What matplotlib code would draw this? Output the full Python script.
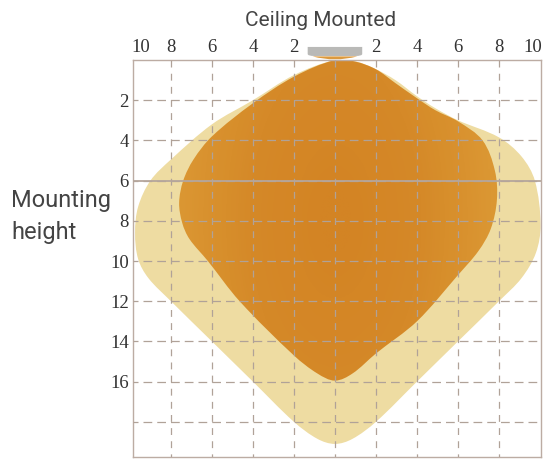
import numpy as np
import matplotlib
matplotlib.use("Agg")
import matplotlib.pyplot as plt
from matplotlib.colors import LinearSegmentedColormap
from matplotlib.path import Path
from matplotlib.patches import PathPatch

x_ticks = [-8, -6, -4, -2, 0, 2, 4, 6, 8]
x_labels = ["8", "6", "4", "2", "", "2", "4", "6", "8"]
y_ticks = [2, 4, 6, 8, 10, 12, 14, 16, 18]
y_labels = ["2", "4", "6", "8", "10", "12", "14", "16", ""]

outer_x = [0, -2, -4, -6, -8, -9, -9.6, -9.75, -9.6, -9.1, -8, -6, -4, -2, -0.85,
           0, 0.85, 2, 4, 6, 8, 9.1, 9.8, 10.03, 9.75, 9.1, 8, 6, 4.9, 4, 2.95, 2, 1]
outer_y = [0, 0.75, 2, 3.2, 4.95, 6, 7.3, 8.6, 9.9, 10.85, 12, 14, 16, 18, 18.85,
           19.1, 18.85, 18, 16, 14, 12, 10.85, 9.6, 8.2, 6, 4.8, 3.85, 3, 2.4, 1.8, 1, 0.46, 0.07]
inner_x = [0, -2, -4, -6, -6.9, -7.4, -7.6, -7.45, -7.1, -6.2, -4.65, -2, -0.85,
           0, 0.85, 2, 4, 6, 7, 7.6, 7.9, 7.8, 7.2, 6, 4.9, 4, 2.95, 2, 1]
inner_y = [0, 0.83, 2.15, 3.8, 4.95, 6, 7.1, 8.1, 8.9, 10, 12, 14.7, 15.6,
           15.95, 15.6, 14.6, 13, 10.7, 9.5, 8.4, 6.95, 5.5, 4, 3.05, 2.5, 1.9, 1.15, 0.46, 0.08]

def smooth_path(xs, ys):
    # closed smooth outline through the read points, as Bezier segments whose
    # handles scale with each segment's own length
    p = np.column_stack([xs, ys])
    n = len(p)
    t = np.roll(p, -1, axis=0) - np.roll(p, 1, axis=0)
    t = t / np.linalg.norm(t, axis=1, keepdims=True)
    verts = [p[0]]
    codes = [Path.MOVETO]
    for i in range(n):
        j = (i + 1) % n
        d = np.linalg.norm(p[j] - p[i]) / 3
        verts += [p[i] + t[i] * d, p[j] - t[j] * d, p[j]]
        codes += [Path.CURVE4] * 3
    return Path(np.array(verts), codes)

plt.rcParams["font.family"] = ["Roboto", "Liberation Sans", "DejaVu Sans"]
serif = ["Liberation Serif", "DejaVu Serif"]
W, H = 544, 462
fig = plt.figure(figsize=(W / 100, H / 100), dpi=100)
L, R, T, B = 133, 541, 60, 457
ax = fig.add_axes([L / W, 1 - B / H, (R - L) / W, (B - T) / H])

edge = "#bcaca3"
for s in ax.spines.values():
    s.set_color(edge)
    s.set_linewidth(1.0)

ax.set_xticks(x_ticks)
ax.set_xticklabels(x_labels, family=serif, fontsize=13.5, color="#333333")
ax.set_yticks(y_ticks)
ax.set_yticklabels(y_labels, family=serif, fontsize=13.5, color="#333333")
ax.xaxis.tick_top()
ax.tick_params(length=0, pad=3)
ax.xaxis.grid(True, color="#b0a298", lw=0.9, ls=(3, (5.5, 5)))
ax.yaxis.grid(True, color="#b0a298", lw=0.9, ls=(3, (7, 4)))
ax.set_axisbelow(False)
for ln in ax.get_xgridlines() + ax.get_ygridlines():
    ln.set_zorder(1.5)

ax.add_patch(PathPatch(smooth_path(outer_x, outer_y), fc="#eedca2", ec="none", zorder=1))
inner = PathPatch(smooth_path(inner_x, inner_y), fc="none", ec="none", zorder=2)
ax.add_patch(inner)
gx, gy = np.meshgrid(np.linspace(-8, 8, 300), np.linspace(0, 16, 300))
rr = np.sqrt((gx / 8) ** 2 + 0.25 * ((gy - 8) / 8) ** 2)
cmap = LinearSegmentedColormap.from_list("g", ["#d07a16", "#d3801a", "#d98f26"])
im = ax.imshow(rr, extent=(-8, 8, 16, 0), cmap=cmap, vmin=0.1, vmax=0.95, aspect="auto", zorder=2.5, alpha=0.9)
im.set_clip_path(inner)

ax.set_xlim(-9.85, 10.05)
ax.set_ylim(19.75, 0)

ax.axhline(6, color="#b5a69c", lw=1.3, zorder=5)

# lamp above the axes
lamp_path = Path(
    [(-1.33, -0.65), (1.33, -0.65), (1.33, -0.3), (1.33, -0.2), (1.0, -0.2), (-1.0, -0.2), (-1.33, -0.2), (-1.33, -0.3), (-1.33, -0.65)],
    [Path.MOVETO, Path.LINETO, Path.LINETO, Path.CURVE3, Path.CURVE3, Path.LINETO, Path.CURVE3, Path.CURVE3, Path.CLOSEPOLY])
ax.add_patch(PathPatch(lamp_path, fc="#b9b9b7", ec="none", clip_on=False, zorder=6))
cres = Path([(-1.1, -0.18), (0, 0.12), (1.1, -0.18), (-1.1, -0.18)],
            [Path.MOVETO, Path.CURVE3, Path.CURVE3, Path.CLOSEPOLY])
ax.add_patch(PathPatch(cres, fc="#dc9a3f", ec="none", clip_on=False, zorder=5))

for xp in (-9.45, 9.65):
    ax.annotate("10", xy=(xp, 1), xycoords=("data", "axes fraction"), xytext=(0, 3), textcoords="offset points",
                ha="center", va="bottom", family=serif, fontsize=13.5, color="#333333")

fig.text(321 / W, 1 - 21 / H, "Ceiling Mounted", ha="center", va="center", fontsize=15, color="#444444")
fig.text(11 / W, 1 - 201 / H, "Mounting", ha="left", va="center", fontsize=17, color="#444444")
fig.text(11 / W, 1 - 232 / H, "height", ha="left", va="center", fontsize=17, color="#444444")

fig.savefig("out.png", dpi=100)
